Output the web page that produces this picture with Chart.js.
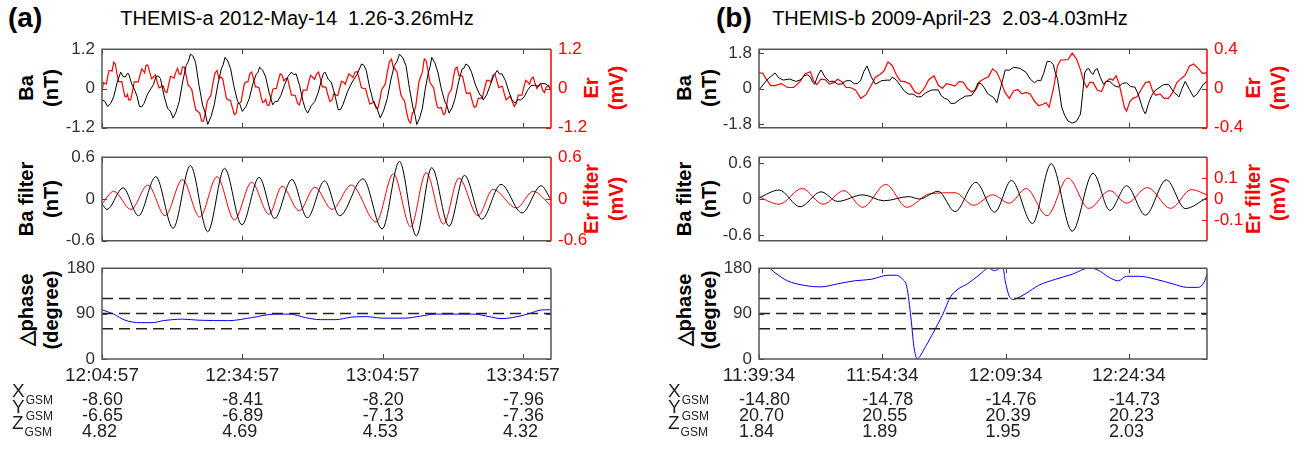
<!DOCTYPE html>
<html>
<head>
<meta charset="utf-8">
<script src="https://cdn.jsdelivr.net/npm/chart.js@4.4.0/dist/chart.umd.min.js"></script>
<style>
  body { margin: 0; background: #fff; width: 1306px; height: 451px; position: relative; overflow: hidden;
         font-family: "Liberation Sans", Arial, sans-serif; color: #000; }
  canvas { position: absolute; }
  .txt { position: absolute; white-space: nowrap; }
  .tag { font-weight: bold; font-size: 28px; }
  .title { font-size: 20px; transform: translateX(-50%); }
  .ylab { position: absolute; white-space: nowrap; font-weight: bold; font-size: 20px; line-height: 25px;
          text-align: center; transform: translate(-50%, -50%) rotate(-90deg); }
  .red { color: #ff0000; }
  .gsm { position: absolute; font-size: 19px; color: #222; line-height: 19px; }
  .gsm sub { font-size: 12px; position: relative; top: 7px; vertical-align: baseline; margin-left: 1px; }
  .val { position: absolute; font-size: 18px; color: #222; line-height: 18px; }
</style>
</head>
<body>
<div class="txt tag" style="left:8px;top:2px">(a)</div>
<div class="txt tag" style="left:716px;top:2px">(b)</div>
<div class="txt title" style="left:297px;top:7px">THEMIS-a 2012-May-14&nbsp; 1.26-3.26mHz</div>
<div class="txt title" style="left:950px;top:7px">THEMIS-b 2009-April-23&nbsp; 2.03-4.03mHz</div>

<div class="ylab" style="left:39px;top:88px">Ba<br>(nT)</div>
<div class="ylab red" style="left:604px;top:88px">Er<br>(mV)</div>
<div class="ylab" style="left:39px;top:199px">Ba filter<br>(nT)</div>
<div class="ylab red" style="left:604px;top:199px">Er filter<br>(mV)</div>
<div class="ylab" style="left:39px;top:310px">&#9651;phase<br>(degree)</div>

<div class="ylab" style="left:697px;top:88px">Ba<br>(nT)</div>
<div class="ylab red" style="left:1266px;top:88px">Er<br>(mV)</div>
<div class="ylab" style="left:697px;top:199px">Ba filter<br>(nT)</div>
<div class="ylab red" style="left:1266px;top:199px">Er filter<br>(mV)</div>
<div class="ylab" style="left:697px;top:310px">&#9651;phase<br>(degree)</div>

<script>
// time axis: minutes since the first tick of each interval
const aTimeTicks = [0, 30, 60, 90];
const aTimeLabels = ['12:04:57', '12:34:57', '13:04:57', '13:34:57'];
const aSpan = 96;
const bTimeTicks = [0, 15, 30, 45];
const bTimeLabels = ['11:39:34', '11:54:34', '12:09:34', '12:24:34'];
const bSpan = 54.5;

// spacecraft position under each tick (Re)
const aXgsm = [-8.60, -8.41, -8.20, -7.96];
const aYgsm = [-6.65, -6.89, -7.13, -7.36];
const aZgsm = [4.82, 4.69, 4.53, 4.32];
const bXgsm = [-14.80, -14.78, -14.76, -14.73];
const bYgsm = [20.70, 20.55, 20.39, 20.23];
const bZgsm = [1.84, 1.89, 1.95, 2.03];

// THEMIS-a, [minute, value]
const aBaRaw = [
  [0,-0.35],[0.6,-0.39],[1.2,-0.55],[1.85,-0.46],[2.5,-0.25],[3.25,0.19],[4.0,0.5],[4.5,0.37],[5.0,0.35],[5.35,0.45],
  [5.7,0.45],[6.35,0.14],[7.0,-0.05],[7.5,-0.24],[8.0,-0.55],[8.5,-0.56],[9.0,-0.45],[9.75,-0.17],[10.5,0.0],[11.0,0.12],
  [11.5,0.35],[12.0,0.39],[12.5,0.3],[13.25,-0.21],[14.0,-0.6],[14.6,-0.69],[15.2,-0.9],[15.85,-0.71],[16.5,-0.4],[17.25,0.21],
  [18.0,0.7],[18.45,0.82],[18.9,1.05],[19.45,0.99],[20.0,0.8],[20.75,0.09],[21.5,-0.5],[22.05,-0.74],[22.6,-1.1],[23.3,-0.86],
  [24.0,-0.5],[24.75,0.11],[25.5,0.6],[25.9,0.72],[26.3,0.95],[26.9,0.84],[27.5,0.6],[28.25,0.04],[29.0,-0.4],[29.5,-0.49],
  [30.0,-0.7],[30.75,-0.56],[31.5,-0.3],[32.25,0.14],[33.0,0.45],[33.35,0.49],[33.7,0.65],[34.35,0.56],[35.0,0.35],[35.75,-0.14],
  [36.5,-0.5],[37.0,-0.39],[37.5,-0.4],[38.25,-0.21],[39.0,0.1],[39.75,0.36],[40.5,0.5],[41.0,0.42],[41.5,0.45],[42.25,0.09],
  [43.0,-0.4],[43.5,-0.64],[44.0,-0.75],[44.75,-0.52],[45.5,-0.4],[46.25,-0.11],[47.0,0.3],[47.35,0.46],[47.7,0.5],[48.35,0.29],
  [49.0,0.2],[49.75,-0.17],[50.5,-0.65],[51.0,-0.64],[51.5,-0.5],[52.5,-0.09],[53.5,0.2],[54.5,0.42],[55.5,0.75],[56.0,0.71],
  [56.5,0.55],[57.25,0.02],[58.0,-0.4],[58.75,-0.59],[59.5,-0.9],[60.25,-0.66],[61.0,-0.3],[61.75,0.26],[62.5,0.7],[63.05,0.82],
  [63.6,1.05],[64.3,0.94],[65.0,0.7],[65.75,-0.01],[66.5,-0.6],[66.9,-0.79],[67.3,-1.1],[67.9,-0.91],[68.5,-0.6],[69.15,0.01],
  [69.8,0.5],[70.15,0.67],[70.5,0.95],[71.15,0.79],[71.8,0.5],[72.55,-0.01],[73.3,-0.4],[73.75,-0.52],[74.2,-0.75],[74.85,-0.59],
  [75.5,-0.3],[76.25,0.21],[77.0,0.6],[77.4,0.62],[77.8,0.75],[78.4,0.69],[79.0,0.5],[79.9,0.09],[80.8,-0.2],[81.15,-0.22],
  [81.5,-0.35],[82.25,-0.19],[83.0,0.1],[83.75,0.39],[84.5,0.55],[85.0,0.44],[85.5,0.45],[86.25,0.24],[87.0,-0.1],[87.65,-0.34],
  [88.3,-0.45],[88.9,-0.34],[89.5,-0.35],[90.25,-0.26],[91.0,-0.05],[91.75,0.09],[92.5,0.1],[93.25,0.07],[94.0,0.15],[94.95,0.14],
  [95.9,0.0]
];
const aErRaw = [
  [0,-0.1],[0.3,0.18],[0.6,0.15],[0.9,0.13],[1.2,0.35],[1.5,0.55],[1.8,0.55],[2.15,0.53],[2.5,0.8],[2.85,0.75],
  [3.2,0.45],[3.55,0.22],[3.9,0.2],[4.25,0.21],[4.6,-0.05],[4.9,-0.25],[5.2,-0.25],[5.45,-0.18],[5.7,-0.35],[6.1,-0.35],
  [6.5,-0.1],[6.9,0.2],[7.3,0.2],[7.75,0.2],[8.2,0.45],[8.5,0.6],[8.8,0.55],[9.1,0.48],[9.4,0.7],[9.8,0.72],
  [10.2,0.5],[10.6,0.3],[11.0,0.35],[11.4,0.42],[11.8,0.2],[12.2,0.02],[12.6,0.05],[13.05,0.08],[13.5,-0.1],[13.9,-0.12],
  [14.3,0.15],[14.65,0.37],[15.0,0.35],[15.4,0.32],[15.8,0.5],[16.15,0.62],[16.5,0.45],[16.85,0.43],[17.2,0.65],[17.6,0.65],
  [18.0,0.4],[18.4,0.1],[18.8,0.05],[19.2,-0.03],[19.6,-0.35],[20.05,-0.65],[20.5,-0.7],[20.9,-0.75],[21.3,-1.0],[21.7,-1.0],
  [22.1,-0.75],[22.5,-0.39],[22.9,-0.3],[23.3,-0.2],[23.7,0.15],[24.15,0.47],[24.6,0.55],[25.0,0.31],[25.4,0.35],[25.8,0.3],
  [26.2,0.0],[26.6,-0.3],[27.0,-0.35],[27.45,-0.36],[27.9,-0.6],[28.3,-0.8],[28.7,-0.75],[29.05,-0.46],[29.4,-0.45],[29.75,-0.4],
  [30.1,-0.1],[30.45,0.15],[30.8,0.2],[31.2,0.2],[31.6,0.45],[32.0,0.5],[32.4,0.3],[32.8,0.05],[33.2,0.05],[33.6,0.02],
  [34.0,-0.25],[34.35,-0.43],[34.7,-0.4],[35.0,-0.33],[35.3,-0.5],[35.7,-0.52],[36.1,-0.3],[36.5,-0.03],[36.9,0.0],[37.3,0.0],
  [37.7,0.25],[38.1,0.45],[38.5,0.4],[38.9,0.23],[39.3,0.3],[39.7,0.3],[40.1,0.05],[40.5,-0.2],[40.9,-0.2],[41.35,-0.22],
  [41.8,-0.45],[42.2,-0.5],[42.6,-0.3],[43.0,-0.05],[43.4,-0.05],[43.8,-0.05],[44.2,0.2],[44.6,0.4],[45.0,0.35],[45.45,0.28],
  [45.9,0.45],[46.3,0.5],[46.7,0.3],[47.1,0.05],[47.5,0.05],[47.9,0.03],[48.3,-0.2],[48.75,-0.4],[49.2,-0.35],[49.6,-0.15],
  [50.0,-0.2],[50.4,-0.22],[50.8,0.0],[51.2,0.22],[51.6,0.2],[52.0,0.13],[52.4,0.3],[52.8,0.45],[53.2,0.4],[53.65,0.33],
  [54.1,0.5],[54.55,0.52],[55.0,0.3],[55.45,0.03],[55.9,0.0],[56.35,0.0],[56.8,-0.25],[57.25,-0.47],[57.7,-0.45],[58.15,-0.4],
  [58.6,-0.6],[59.0,-0.6],[59.4,-0.35],[59.8,-0.03],[60.2,0.05],[60.6,0.15],[61.0,0.5],[61.45,0.82],[61.9,0.9],[62.3,0.63],
  [62.7,0.6],[63.1,0.5],[63.5,0.15],[63.9,-0.2],[64.3,-0.3],[64.7,-0.38],[65.1,-0.7],[65.55,-0.98],[66.0,-1.05],[66.35,-0.75],
  [66.7,-0.7],[67.05,-0.57],[67.4,-0.2],[67.75,0.2],[68.1,0.35],[68.5,0.5],[68.9,0.9],[69.3,0.85],[69.7,0.55],[70.1,0.2],
  [70.5,0.1],[70.9,0.02],[71.3,-0.3],[71.7,-0.57],[72.1,-0.6],[72.55,-0.58],[73.0,-0.8],[73.35,-0.77],[73.7,-0.5],[74.05,-0.18],
  [74.4,-0.1],[74.75,-0.02],[75.1,0.3],[75.5,0.6],[75.9,0.65],[76.3,0.4],[76.7,0.4],[77.1,0.37],[77.5,0.1],[77.9,-0.15],
  [78.3,-0.15],[78.7,-0.13],[79.1,-0.35],[79.55,-0.57],[80.0,-0.55],[80.45,-0.3],[80.9,-0.3],[81.35,-0.27],[81.8,0.0],[82.25,0.25],
  [82.7,0.25],[83.15,0.2],[83.6,0.4],[84.0,0.45],[84.4,0.25],[84.8,0.03],[85.2,0.05],[85.6,0.07],[86.0,-0.15],[86.4,-0.35],
  [86.8,-0.3],[87.25,-0.23],[87.7,-0.4],[88.15,-0.55],[88.6,-0.45],[89.0,-0.2],[89.4,-0.2],[89.8,-0.2],[90.2,0.05],[90.6,0.25],
  [91.0,0.2],[91.4,0.13],[91.8,0.3],[92.2,0.35],[92.6,0.15],[93.0,0.0],[93.4,0.1],[93.8,0.15],[94.2,-0.05],[94.6,-0.12],
  [95.0,0.05],[95.45,0.1],[95.9,-0.05]
];
const aBaFilt = [
  [0,-0.07],[1.07,-0.15],[4.5,0.16],[7.8,-0.24],[11.5,0.32],[15.2,-0.42],[18.9,0.48],[22.6,-0.47],[26.2,0.44],[29.9,-0.37],
  [33.6,0.31],[36.9,-0.28],[40.6,0.28],[43.9,-0.27],[47.6,0.26],[50.8,-0.24],[55.8,0.29],[59.9,-0.43],[63.6,0.54],[67.2,-0.53],
  [70.5,0.45],[74.2,-0.39],[77.5,0.34],[81.2,-0.29],[85.3,0.21],[89.8,-0.2],[93.9,0.19],[95.9,0.0]
];
const aErFilt = [
  [0,-0.07],[2.5,0.11],[6.2,-0.15],[9.8,0.2],[13.5,-0.24],[17.2,0.28],[20.9,-0.26],[24.6,0.32],[28.3,-0.3],[32.0,0.24],
  [35.7,-0.22],[38.5,0.18],[42.2,-0.17],[45.5,0.17],[49.2,-0.15],[53.3,0.2],[58.6,-0.33],[62.3,0.36],[66.0,-0.4],[69.3,0.38],
  [73.0,-0.36],[76.3,0.3],[80.4,-0.24],[83.6,0.14],[88.6,-0.13],[92.2,0.11],[95.9,-0.09]
];
const aPhase = [
  [0,97.5],[2.5,89],[4.9,77],[8.2,72],[10.7,72],[13.1,76],[17.2,79],[20.5,77],[27.1,76],[32.0,82],
  [36.9,89],[40.2,89],[43.5,82],[46.7,78],[50.0,78],[53.3,83],[56.6,84],[59.9,81],[64.8,81],[68.1,85],
  [71.3,89],[79.5,89],[82.8,84],[85.3,80],[87.7,82],[91.0,89],[94.3,97.5],[95.9,97.5]
];

// THEMIS-b, [minute, value]
const bBaRaw = [
  [0,-0.07],[0.97,0.44],[1.94,0.79],[2.45,0.53],[2.95,0.43],[3.72,0.48],[4.48,0.36],[4.99,0.43],[5.50,0.65],[5.88,0.7],
  [6.26,0.58],[6.52,0.32],[6.77,0.22],[7.16,0.66],[7.54,0.94],[8.05,0.57],[8.56,0.36],[9.07,0.37],[9.57,0.22],[10.08,0.23],
  [10.59,0.39],[11.1,0.4],[11.61,0.24],[12.0,0.26],[12.38,0.43],[12.76,0.87],[13.14,1.15],[13.65,0.6],[14.16,0.22],[14.93,0.4],
  [15.69,0.43],[15.95,0.42],[16.20,0.58],[16.7,0.44],[17.21,0.14],[17.72,-0.15],[18.23,-0.29],[18.74,-0.28],[19.25,-0.43],[19.76,-0.41],
  [20.27,-0.22],[21.03,-0.07],[21.80,-0.07],[22.18,-0.37],[22.56,-0.5],[22.95,-0.55],[23.33,-0.76],[23.84,-0.75],[24.34,-0.58],[25.1,-0.39],
  [25.87,-0.36],[26.25,-0.12],[26.64,0.29],[27.02,0.25],[27.40,0.04],[27.78,-0.24],[28.16,-0.36],[28.55,-0.46],[28.93,-0.72],[29.44,0.11],
  [29.95,0.94],[30.46,0.93],[30.97,1.08],[31.73,1.03],[32.49,0.82],[33.0,0.48],[33.51,0.29],[33.9,0.42],[34.28,0.39],[34.66,0.8],
  [35.04,1.37],[35.42,1.38],[35.80,1.22],[36.06,0.78],[36.31,0.5],[36.57,-0.22],[36.82,-0.94],[37.2,-1.38],[37.59,-1.66],[38.1,-1.76],
  [38.60,-1.68],[38.86,-1.49],[39.11,-1.3],[39.37,-0.26],[39.62,0.79],[39.88,0.98],[40.13,1.01],[40.39,0.8],[40.64,0.72],[40.9,0.95],
  [41.15,1.01],[41.54,0.55],[41.92,0.22],[42.3,0.37],[42.68,0.36],[43.19,0.15],[43.70,0.07],[44.21,0.26],[44.72,0.29],[45.23,0.1],
  [45.73,0.07],[46.12,-0.28],[46.50,-0.79],[46.76,-1.12],[47.01,-1.3],[47.39,-0.75],[47.77,-0.36],[48.16,-0.1],[48.54,0.0],[49.18,0.19],
  [49.81,0.22],[50.45,-0.18],[51.09,-0.43],[51.47,0.0],[51.85,0.36],[52.36,-0.05],[52.87,-0.43],[53.25,-0.3],[53.63,-0.07],[54.07,0.22],
  [54.5,0.36]
];
const bErRaw = [
  [0,0.16],[0.46,0.155],[0.92,0.09],[1.43,0.03],[1.94,0.03],[2.7,0.05],[3.46,0.01],[4.22,0.01],[4.99,0.07],[5.62,0.15],
  [6.26,0.17],[6.65,0.075],[7.03,0.04],[7.54,0.095],[8.05,0.09],[8.56,0.045],[9.07,0.06],[9.57,0.095],[10.08,0.07],[10.59,0.01],
  [11.10,0.01],[11.74,-0.015],[12.38,-0.1],[13.0,-0.065],[13.65,0.03],[14.16,0.115],[14.67,0.14],[15.18,0.175],[15.69,0.27],[16.2,0.235],
  [16.71,0.14],[17.21,0.075],[17.72,0.07],[18.36,0.045],[19.00,-0.04],[19.51,-0.055],[20.02,-0.01],[20.65,0.09],[21.29,0.13],[21.8,0.035],
  [22.31,0.0],[22.82,0.05],[23.33,0.04],[23.84,0.025],[24.34,0.07],[24.85,0.065],[25.36,0.0],[25.87,-0.035],[26.38,-0.01],[26.89,0.075],
  [27.40,0.1],[27.91,0.12],[28.42,0.2],[28.93,0.165],[29.44,0.07],[29.95,-0.045],[30.46,-0.1],[30.97,-0.025],[31.47,-0.01],[31.98,-0.055],
  [32.49,-0.04],[33.0,-0.055],[33.51,-0.13],[34.02,-0.175],[34.53,-0.16],[34.91,-0.145],[35.29,-0.19],[35.8,-0.01],[36.31,0.23],[36.7,0.29],
  [37.08,0.29],[37.59,0.295],[38.10,0.36],[38.6,0.305],[39.11,0.19],[39.5,0.07],[39.88,0.01],[40.26,0.065],[40.64,0.06],[41.15,-0.015],
  [41.66,-0.03],[42.17,0.065],[42.68,0.1],[43.06,0.085],[43.44,0.13],[43.82,0.045],[44.21,-0.1],[44.46,-0.195],[44.72,-0.23],[45.1,-0.135],
  [45.48,-0.1],[45.99,-0.085],[46.50,-0.01],[47.01,0.06],[47.52,0.07],[47.9,-0.03],[48.28,-0.07],[48.79,-0.055],[49.30,-0.1],[49.81,-0.1],
  [50.32,-0.04],[50.83,0.06],[51.34,0.1],[51.85,0.135],[52.36,0.23],[52.87,0.25],[53.38,0.21],[53.94,0.155],[54.5,0.16]
];
const bBaFilt = [
  [0,0.02],[2.44,0.15],[4.99,-0.13],[7.54,0.12],[9.57,-0.04],[12.63,0.07],[15.18,-0.03],[18.23,0.04],[19.51,0.0],[21.80,0.13],
  [23.84,-0.21],[26.38,0.28],[28.67,-0.22],[30.71,0.31],[33.26,-0.41],[35.55,0.59],[38.10,-0.54],[40.64,0.43],[42.68,-0.19],[44.72,0.22],
  [47.01,-0.27],[49.56,0.32],[51.85,-0.16],[54.5,0.02]
];
const bErFilt = [
  [0,0.01],[2.44,-0.025],[5.25,0.05],[7.79,-0.025],[10.34,0.04],[12.63,-0.04],[15.43,0.07],[17.98,-0.04],[20.78,0.025],[23.84,0.03],
  [26.13,-0.03],[28.42,0.02],[30.46,-0.02],[32.49,0.05],[35.04,-0.08],[37.59,0.1],[40.13,-0.045],[42.68,0.04],[44.72,-0.02],[47.26,0.055],
  [50.06,-0.045],[52.61,0.045],[54.5,0.02]
];
const bPhase = [
  [0,180],[1.17,180],[1.94,171],[3.46,155],[5.50,146],[7.54,143],[9.57,149],[11.61,155],[13.65,158],[15.69,166],
  [16.71,166],[17.47,158],[17.98,143],[18.49,81],[18.84,25],[19.25,1],[20.27,25],[21.29,55],[22.31,87],[23.33,124],
  [24.34,140],[25.36,149],[26.89,168],[27.91,180],[28.67,175],[29.18,179],[29.69,180],[29.95,155],[30.46,124],[30.97,118],
  [31.47,121],[32.49,130],[34.02,146],[36.06,158],[38.10,168],[40.13,180],[41.15,177],[42.68,161],[43.70,155],[44.72,164],
  [46.24,164],[48.28,158],[50.32,149],[52.10,142],[53.38,142],[54.14,152],[54.5,168]
];
const phaseRefs = [60, 90, 120];

// plot boxes in page pixels
const COL_A = { left: 102, width: 449 };
const COL_B = { left: 759, width: 448 };
const ROWS = [
  { top: 44, height: 89 },
  { top: 152, height: 94 },
  { top: 263, height: 96 }
];
const ML = 100, MR = 100, MT = 12, MB = 12, MBX = 34;

const tickFont = { family: '"Liberation Sans", Arial, sans-serif', size: 17 };
const timeFont = { family: '"Liberation Sans", Arial, sans-serif', size: 19 };

// MATLAB style box: inward ticks on all sides, red right spine for the Er axis
const boxTicks = {
  id: 'boxTicks',
  afterDatasetsDraw(chart) {
    const { ctx, chartArea: a, scales } = chart;
    const len = 5;
    ctx.save();
    ctx.lineWidth = 1;
    ctx.strokeStyle = '#444';
    ctx.beginPath();
    scales.x.ticks.forEach(t => {
      const px = Math.round(scales.x.getPixelForValue(t.value)) + 0.5;
      ctx.moveTo(px, a.top); ctx.lineTo(px, a.top + len);
      ctx.moveTo(px, a.bottom); ctx.lineTo(px, a.bottom - len);
    });
    scales.y.ticks.forEach(t => {
      const py = Math.round(scales.y.getPixelForValue(t.value)) + 0.5;
      ctx.moveTo(a.left, py); ctx.lineTo(a.left + len, py);
      if (!scales.y2) { ctx.moveTo(a.right, py); ctx.lineTo(a.right - len, py); }
    });
    ctx.stroke();
    ctx.lineWidth = 1.5;
    ctx.strokeStyle = '#555';
    ctx.beginPath();
    ctx.moveTo(a.right, a.top); ctx.lineTo(a.left, a.top); ctx.lineTo(a.left, a.bottom); ctx.lineTo(a.right, a.bottom);
    if (!scales.y2) ctx.lineTo(a.right, a.top);
    ctx.stroke();
    if (scales.y2) {
      ctx.strokeStyle = '#ff0000';
      ctx.beginPath();
      ctx.moveTo(a.right, a.top); ctx.lineTo(a.right, a.bottom);
      ctx.stroke();
      ctx.lineWidth = 1;
      ctx.beginPath();
      scales.y2.ticks.forEach(t => {
        const py = Math.round(scales.y2.getPixelForValue(t.value)) + 0.5;
        ctx.moveTo(a.right, py); ctx.lineTo(a.right - len, py);
      });
      ctx.stroke();
    }
    ctx.restore();
  }
};

const fmt = v => (v === 0 ? '0' : String(v));
const pts = arr => arr.map(p => ({ x: p[0], y: p[1] }));

function line(arr, color, width, axis, smooth) {
  return {
    data: pts(arr), borderColor: color, borderWidth: width, pointRadius: 0, yAxisID: axis || 'y',
    tension: 0, cubicInterpolationMode: smooth ? 'monotone' : 'default'
  };
}

function yScale(min, max, ticks, color, width, pos) {
  return {
    type: 'linear', position: pos, min: min, max: max,
    afterBuildTicks: s => { s.ticks = ticks.map(v => ({ value: v })); },
    afterFit: s => { s.width = width; },
    grid: { display: false, drawTicks: false }, border: { display: false },
    ticks: { font: tickFont, color: color, padding: 7, callback: fmt }
  };
}

function buildPanel(col, row, span, xTicks, xLabels, showX, datasets, yL, yR) {
  const cv = document.createElement('canvas');
  const mb = showX ? MBX : MB;
  cv.width = ML + col.width + MR;
  cv.height = MT + row.height + mb;
  cv.style.left = (col.left - ML) + 'px';
  cv.style.top = (row.top - MT) + 'px';
  document.body.appendChild(cv);
  const scales = {
    x: {
      type: 'linear', min: 0, max: span,
      afterBuildTicks: s => { s.ticks = xTicks.map(v => ({ value: v })); },
      afterFit: s => { s.height = mb; },
      grid: { display: false, drawTicks: false }, border: { display: false },
      ticks: { display: showX, font: timeFont, color: '#222', padding: 5, maxRotation: 0, autoSkip: false,
               callback: (v, i) => xLabels[i] }
    },
    y: yScale(yL[0], yL[1], yL[2], '#333', ML, 'left')
  };
  if (yR) scales.y2 = yScale(yR[0], yR[1], yR[2], '#ff0000', MR, 'right');
  const chart = new Chart(cv, {
    type: 'line',
    data: { datasets: datasets },
    options: {
      responsive: false, animation: false, events: [],
      layout: { padding: { top: MT, left: 0, bottom: 0, right: yR ? 0 : MR } },
      plugins: { legend: { display: false }, tooltip: { enabled: false } },
      scales: scales
    },
    plugins: [boxTicks]
  });
  chart.$ticks = xTicks;
  chart.$offset = col.left - ML;
  return chart;
}

function refLines(span) {
  return phaseRefs.map(v => ({
    data: [{ x: 0, y: v }, { x: span, y: v }], borderColor: '#222', borderWidth: 1.5,
    borderDash: [11, 6], pointRadius: 0
  }));
}

// column (a)
buildPanel(COL_A, ROWS[0], aSpan, aTimeTicks, aTimeLabels, false,
  [line(aBaRaw, '#000', 1), line(aErRaw, '#ff0000', 1.2, 'y2')],
  [-1.2, 1.2, [-1.2, 0, 1.2]], [-1.2, 1.2, [-1.2, 0, 1.2]]);
buildPanel(COL_A, ROWS[1], aSpan, aTimeTicks, aTimeLabels, false,
  [line(aBaFilt, '#000', 1, 'y', true), line(aErFilt, '#ff0000', 1, 'y2', true)],
  [-0.6, 0.6, [-0.6, 0, 0.6]], [-0.6, 0.6, [-0.6, 0, 0.6]]);
const aPh = buildPanel(COL_A, ROWS[2], aSpan, aTimeTicks, aTimeLabels, true,
  refLines(aSpan).concat([line(aPhase, '#0000ff', 1, 'y', true)]),
  [0, 180, [0, 90, 180]], null);

// column (b)
buildPanel(COL_B, ROWS[0], bSpan, bTimeTicks, bTimeLabels, false,
  [line(bBaRaw, '#000', 1), line(bErRaw, '#ff0000', 1.2, 'y2')],
  [-2.0, 2.0, [-1.8, 0, 1.8]], [-0.4, 0.4, [-0.4, 0, 0.4]]);
buildPanel(COL_B, ROWS[1], bSpan, bTimeTicks, bTimeLabels, false,
  [line(bBaFilt, '#000', 1, 'y', true), line(bErFilt, '#ff0000', 1, 'y2', true)],
  [-0.7, 0.7, [-0.6, 0, 0.6]], [-0.2, 0.2, [-0.1, 0, 0.1]]);
const bPh = buildPanel(COL_B, ROWS[2], bSpan, bTimeTicks, bTimeLabels, true,
  refLines(bSpan).concat([line(bPhase, '#0000ff', 1, 'y', true)]),
  [0, 180, [0, 90, 180]], null);

// GSM position table under the time axis
const ROW_Y = [390, 406, 422];
function gsmTable(chart, xs, ys, zs, labelX) {
  ['X', 'Y', 'Z'].forEach((c, r) => {
    const d = document.createElement('div');
    d.className = 'gsm';
    d.style.left = labelX + 'px';
    d.style.top = (ROW_Y[r] - 9) + 'px';
    d.innerHTML = c + '<sub>GSM</sub>';
    document.body.appendChild(d);
  });
  [xs, ys, zs].forEach((vals, r) => {
    vals.forEach((v, i) => {
      const px = chart.scales.x.getPixelForValue(chart.$ticks[i]) + chart.$offset;
      const d = document.createElement('div');
      d.className = 'val';
      d.style.left = (px - 20) + 'px';
      d.style.top = ROW_Y[r] + 'px';
      d.textContent = v.toFixed(2);
      document.body.appendChild(d);
    });
  });
}
gsmTable(aPh, aXgsm, aYgsm, aZgsm, 12);
gsmTable(bPh, bXgsm, bYgsm, bZgsm, 668);
</script>
</body>
</html>
